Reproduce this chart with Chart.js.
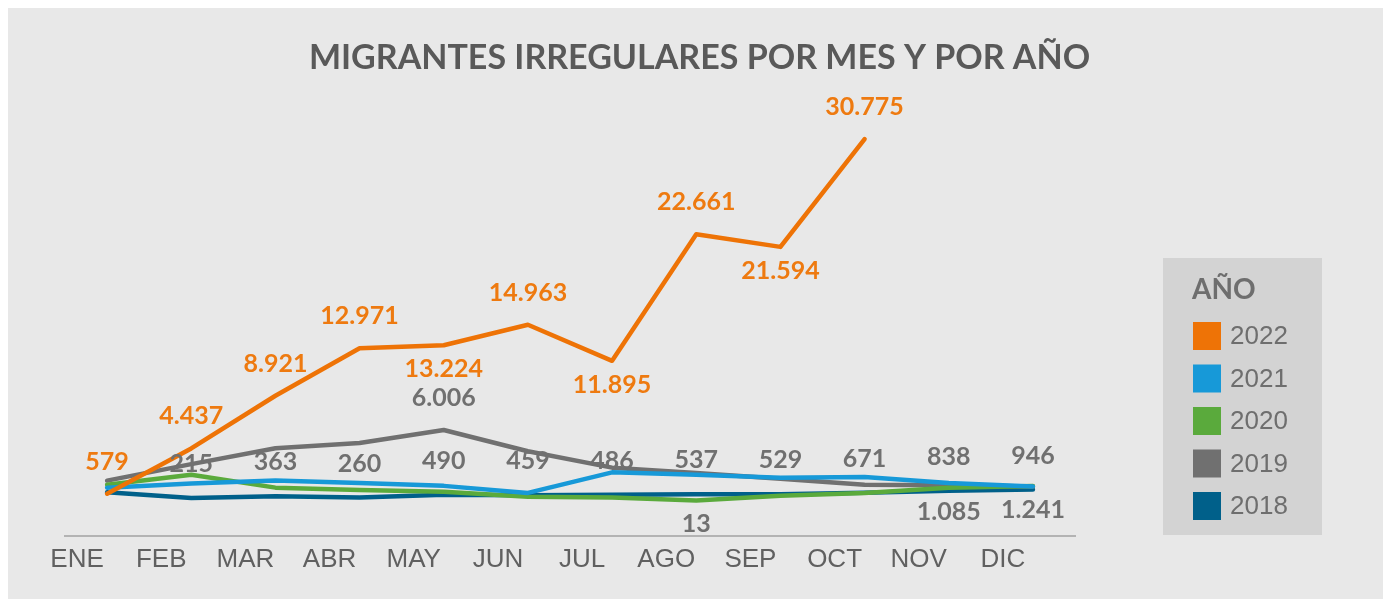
<!DOCTYPE html>
<html>
<head>
<meta charset="utf-8">
<script src="https://cdn.jsdelivr.net/npm/chart.js@4"></script>
<style>
    body { margin: 8px; background: #fff; }
    #marco { width: 1383px; height: 591px; background: #e8e8e8; }
</style>
</head>
<body>
<div id="marco"><canvas id="migrantesChart" width="1383" height="591"></canvas></div>
<script>
// Datos
const titulo = 'MIGRANTES IRREGULARES POR MES Y POR AÑO';
const meses = ['ENE', 'FEB', 'MAR', 'ABR', 'MAY', 'JUN', 'JUL', 'AGO', 'SEP', 'OCT', 'NOV', 'DIC'];
const anios = ['2022', '2021', '2020', '2019', '2018'];
const datos2022 = [579, 4437, 8921, 12971, 13224, 14963, 11895, 22661, 21594, 30775, null, null];
const datos2021 = [1100, 1450, 1700, 1500, 1250, 650, 2400, 2200, 1950, 2000, 1500, 1200];
const datos2020 = [1350, 2200, 1100, 900, 750, 330, 250, 13, 400, 650, 1085, 1241];
const datos2019 = [1700, 3100, 4450, 4900, 6006, 4200, 2800, 2350, 1850, 1350, 1300, 1200];
const datos2018 = [700, 215, 363, 260, 490, 459, 486, 537, 529, 671, 838, 946];
const colores = ['#ee7306', '#1799d8', '#5aaa3c', '#707070', '#00608a'];

function formato(v) {
    return String(v).replace(/\B(?=(\d{3})+(?!\d))/g, '.');
}

(function() {
    'use strict';

    // titulo centrado en todo el lienzo
    const tituloPlugin = {
        id: 'tituloCentrado',
        afterDraw(chart) {
            const ctx = chart.ctx;
            ctx.save();
            ctx.font = 'bold 34px Lato';
            ctx.fillStyle = '#595959';
            ctx.textAlign = 'center';
            ctx.textBaseline = 'middle';
            ctx.fillText(titulo, chart.width / 2, 50);
            ctx.restore();
        }
    };

    // etiquetas de valor sobre/bajo los puntos
    const etiquetasPlugin = {
        id: 'etiquetas',
        afterDatasetsDraw(chart) {
            const ctx = chart.ctx;
            ctx.save();
            ctx.font = 'bold 25px Lato';
            ctx.textAlign = 'center';
            ctx.textBaseline = 'middle';
            chart.data.datasets.forEach((ds, i) => {
                const meta = chart.getDatasetMeta(i);
                (ds.etiquetas || []).forEach(idx => {
                    const p = meta.data[idx];
                    if (!p) return;
                    const abajo = (ds.abajo || []).includes(idx);
                    ctx.fillStyle = ds.colorEtiqueta;
                    ctx.fillText(formato(ds.data[idx]), p.x, abajo ? p.y + 24 : p.y - ds.distancia);
                });
            });
            ctx.restore();
        }
    };

    // leyenda con fondo gris a la derecha
    const leyendaPlugin = {
        id: 'leyendaAnio',
        afterDraw(chart) {
            const ctx = chart.ctx;
            ctx.save();
            ctx.fillStyle = '#d3d3d3';
            ctx.fillRect(1155, 250, 159, 277);
            ctx.fillStyle = '#6e6e6e';
            ctx.textBaseline = 'middle';
            ctx.font = 'bold 28px Lato';
            ctx.fillText('AÑO', 1184, 282);
            ctx.font = '26px "Liberation Sans"';
            chart.data.datasets.forEach((ds, i) => {
                const y = 328 + i * 42.5;
                ctx.fillStyle = ds.borderColor;
                ctx.fillRect(1185, y - 14, 28, 28);
                ctx.fillStyle = '#6e6e6e';
                ctx.fillText(ds.label, 1222, y + 1);
            });
            ctx.restore();
        }
    };

    const series = [datos2022, datos2021, datos2020, datos2019, datos2018];
    const conEtiqueta = [
        [0, 1, 2, 3, 4, 5, 6, 7, 8, 9],
        [],
        [7, 10, 11],
        [4],
        [1, 2, 3, 4, 5, 6, 7, 8, 9, 10, 11]
    ];

    const datasets = anios.map((anio, i) => ({
        label: anio,
        data: series[i],
        borderColor: colores[i],
        backgroundColor: colores[i],
        borderWidth: 4.5,
        pointRadius: 0,
        tension: 0,
        borderCapStyle: 'round',
        borderJoinStyle: 'round',
        etiquetas: conEtiqueta[i],
        abajo: i === 0 ? [4, 6, 8] : (i === 2 ? [7, 10, 11] : []),
        distancia: i === 4 ? 34 : 32,
        colorEtiqueta: i === 0 ? '#ee7a10' : '#707070'
    }));

    const ctx = document.getElementById('migrantesChart').getContext('2d');
    new Chart(ctx, {
        type: 'line',
        data: { labels: meses, datasets: datasets },
        options: {
            responsive: false,
            animation: false,
            layout: { padding: { left: 57, right: 316, bottom: 16, top: 99 } },
            scales: {
                x: {
                    offset: true,
                    grid: { display: false, drawTicks: false },
                    border: { display: true, color: '#b3b3b3', width: 2 },
                    ticks: {
                        padding: 8,
                        labelOffset: -30,
                        color: '#606060',
                        font: { family: '"Liberation Sans Narrow", "Liberation Sans"', size: 26 }
                    }
                },
                y: {
                    display: false,
                    min: -3000,
                    max: 33500
                }
            },
            plugins: {
                legend: { display: false },
                tooltip: { enabled: false },
                title: { display: false }
            }
        },
        plugins: [etiquetasPlugin, leyendaPlugin, tituloPlugin]
    });
})();
</script>
</body>
</html>
